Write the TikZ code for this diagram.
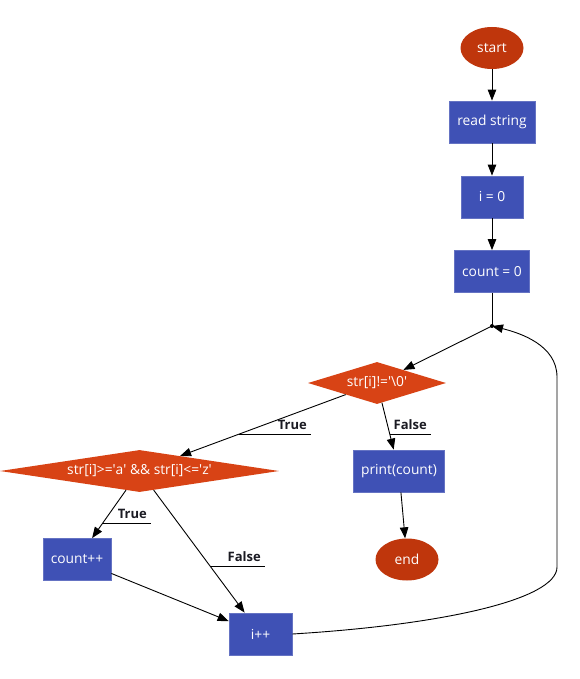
\documentclass[tikz,border=0pt]{standalone}
\usepackage{fontspec}
\setmainfont{Open Sans}
\usetikzlibrary{shapes.geometric,arrows.meta}
\definecolor{termred}{HTML}{BF360C}
\definecolor{decorange}{HTML}{D84315}
\definecolor{procblue}{HTML}{3F51B5}
\definecolor{procedge}{HTML}{6573C3}
\definecolor{labink}{HTML}{1A1A22}
\newcommand{\sq}{\textquotesingle}
\tikzset{
  every node/.style={font=\fontsize{13.8pt}{16pt}\selectfont},
  term/.style={ellipse, fill=termred, text=white, minimum width=63pt, minimum height=42pt, inner sep=0pt},
  proc/.style={rectangle, fill=procblue, draw=procedge, line width=0.8pt, text=white, minimum height=42pt, inner sep=0pt},
  dec/.style={diamond, fill=decorange, text=white, inner sep=0pt, aspect=4},
  lab/.style={font=\fontsize{13pt}{15pt}\selectfont\bfseries, text=labink, inner xsep=4pt, inner ysep=0pt},
  flow/.style={line width=0.9pt, -{Triangle[length=11pt,width=8.5pt]}},
  uline/.style={line width=0.9pt},
}
\begin{document}
\begin{tikzpicture}[x=1pt,y=-1pt]
\useasboundingbox (0,0) rectangle (580,679);

\node[term] (start) at (492,48) {start};
\node[proc, minimum width=86pt] (read) at (492,122) {read string};
\node[proc, minimum width=62pt] (i0) at (492,197) {i = 0};
\node[proc, minimum width=75pt] (c0) at (492,271.5) {count = 0};
\node[circle, fill=black, inner sep=0pt, minimum size=4pt] (j) at (492,326) {};
\node[dec, minimum width=138pt, minimum height=42pt] (d1) at (377,383) {\makebox[0pt]{str[i]!=\sq\textbackslash 0\sq}};
\node[proc, minimum width=91pt] (pr) at (399,471) {print(count)};
\node[term] (end) at (407,559.5) {end};
\node[dec, minimum width=279pt, minimum height=42pt] (d2) at (139.5,471) {\makebox[0pt]{str[i]>=\sq a\sq{} \&\& str[i]<=\sq z\sq}};
\node[proc, minimum width=68pt] (cpp) at (77,559.5) {count++};
\node[proc, minimum width=63pt] (ipp) at (260.5,634) {i++};

\draw[flow] (start) -- (read);
\draw[flow] (read) -- (i0);
\draw[flow] (i0) -- (c0);
\draw[line width=0.9pt] (c0) -- (j.center);
\draw[flow] (j.center) -- (d1);
\draw[flow] (d1) -- (d2);
\draw[flow] (d1) -- (pr);
\draw[flow] (pr) -- (end);
\draw[flow] (d2) -- (cpp);
\draw[flow] (d2) -- (ipp);
\draw[flow] (cpp) -- (ipp);
\coordinate (v1) at (557,567);
\coordinate (v2) at (557,377);
\draw[line width=0.9pt] (ipp.east) .. controls (440,625) and (557,600) .. (v1) -- (v2);
\draw[flow] (v2) .. controls (557,345) and (520,333) .. (j.center);

% labels
\node[lab, anchor=base east] (l1) at (311,429) {True};
\node[lab, anchor=base east] (l2) at (431,429) {False};
\node[lab, anchor=base east] (l3) at (151,518) {True};
\node[lab, anchor=base east] (l4) at (265,561.5) {False};
\coordinate (h1a) at (0,434); \coordinate (h1b) at (580,434);
\coordinate (h3a) at (0,523); \coordinate (h3b) at (580,523);
\coordinate (h4a) at (0,566.5); \coordinate (h4b) at (580,566.5);
\coordinate (u1) at (intersection of d1--d2 and h1a--h1b);
\coordinate (u2) at (intersection of d1--pr and h1a--h1b);
\coordinate (u3) at (intersection of d2--cpp and h3a--h3b);
\coordinate (u4) at (intersection of d2--ipp and h4a--h4b);
\draw[uline] (u1) -- (u1 -| l1.east);
\draw[uline] (u2) -- (u2 -| l2.east);
\draw[uline] (u3) -- (u3 -| l3.east);
\draw[uline] (u4) -- (u4 -| l4.east);
\end{tikzpicture}
\end{document}
